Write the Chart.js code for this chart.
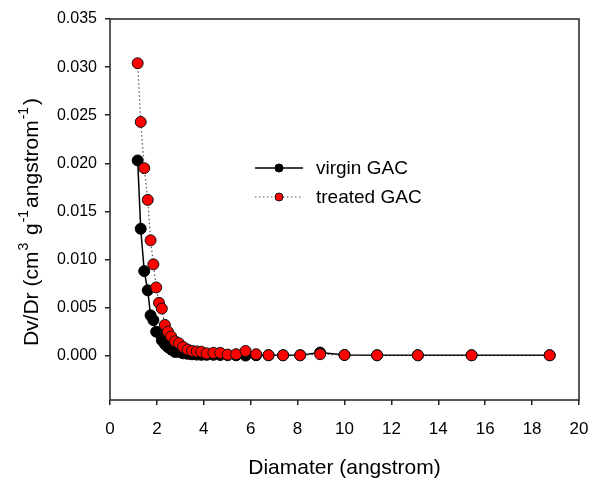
<!DOCTYPE html>
<html>
<head>
<meta charset="utf-8">
<script src="https://cdn.jsdelivr.net/npm/chart.js@4.4.1/dist/chart.umd.min.js"></script>
<style>
html,body{margin:0;padding:0;background:#fff;}
</style>
</head>
<body>
<canvas id="psdChart" width="592" height="479"></canvas>
<script>

/* data */

var diameter=[1.18,1.31,1.46,1.61,1.73,1.85,1.97,2.09,2.21,2.34,2.47,2.61,2.77,2.94,3.12,3.31,3.50,3.70,3.89,4.12,4.41,4.70,5.02,5.38,5.78,6.23,6.76,7.38,8.11,8.96,10.0,11.39,13.13,15.42,18.75];

var virginGAC=[0.0203,0.0132,0.0088,0.0068,0.0042,0.0037,0.0025,0.0024,0.0016,0.0012,0.0009,0.00065,0.0004,0.0004,0.00025,0.0002,0.00015,0.00012,0.0001,0.0001,0.0001,0.00008,0.00006,0.00005,0.00002,0.00005,0.00005,0.00005,0.00005,0.00033,0.00008,0.00005,0.00005,0.00005,0.00005];

var treatedGAC=[0.0304,0.0243,0.0195,0.0162,0.0120,0.0095,0.0071,0.0055,0.0049,0.0032,0.0025,0.0020,0.0015,0.0013,0.0009,0.00065,0.0005,0.00045,0.00042,0.00025,0.0003,0.0003,0.00012,0.00016,0.0005,0.00016,0.00006,0.00005,0.00005,0.00016,0.00008,0.00005,0.00005,0.00005,0.00005];

var xTicks=[0,2,4,6,8,10,12,14,16,18,20];
var yTicks=[0,0.005,0.010,0.015,0.020,0.025,0.030,0.035];

var seriesNames=["virgin GAC","treated GAC"];

var yTitleParts=[["Dv/Dr (cm",0],["3",1],[" g",0],["-1",1],["angstrom",0],["-1",1],[")",0]];

var FONT="'Liberation Sans', Arial, sans-serif";

function toPoints(xs,ys){
return xs.map(function(x,i){ return {x:x,y:ys[i]}; });
}

/* frame, y title with superscripts, legend */

var extras={
id:"extras",
afterDraw:function(chart){
var ctx=chart.ctx;
var a=chart.chartArea;

ctx.save();
ctx.strokeStyle="#222";
ctx.lineWidth=1.5;
ctx.strokeRect(a.left,a.top,a.right-a.left,a.bottom-a.top);
ctx.restore();

// y title
ctx.save();
ctx.fillStyle="#000";
ctx.textBaseline="alphabetic";
var total=0;
yTitleParts.forEach(function(p){
ctx.font=(p[1]?"14px ":"21px ")+FONT;
total+=ctx.measureText(p[0]).width+(p[1]?3:0);
});
ctx.translate(38,222);
ctx.rotate(-Math.PI/2);
var x=-total/2;
yTitleParts.forEach(function(p){
ctx.font=(p[1]?"14px ":"21px ")+FONT;
if(p[1]){ x+=1; }
ctx.fillText(p[0],x,p[1]?-10:0);
x+=ctx.measureText(p[0]).width+(p[1]?2:0);
});
ctx.restore();

// legend
var rows=[168,197];
chart.data.datasets.forEach(function(ds,i){
var y=rows[i];
ctx.save();
ctx.strokeStyle=ds.borderColor;
ctx.lineWidth=ds.borderWidth;
ctx.setLineDash(ds.borderDash||[]);
ctx.beginPath();
ctx.moveTo(255,y);
ctx.lineTo(303,y);
ctx.stroke();
ctx.setLineDash([]);
ctx.beginPath();
ctx.arc(279,y,4,0,Math.PI*2);
ctx.fillStyle=ds.pointBackgroundColor;
ctx.fill();
ctx.lineWidth=ds.pointBorderWidth;
ctx.strokeStyle=ds.pointBorderColor;
ctx.stroke();
ctx.fillStyle="#000";
ctx.font="19px "+FONT;
ctx.textBaseline="middle";
ctx.fillText(ds.label,316,y+1);
ctx.restore();
});
}
};

var ctx=document.getElementById("psdChart");

new Chart(ctx,{

type:"scatter",

data:{
datasets:[{
label:seriesNames[0],
data:toPoints(diameter,virginGAC),
showLine:true,
tension:0,
borderColor:"#000",
borderWidth:1.5,
pointRadius:5.5,
pointBackgroundColor:"#000",
pointBorderColor:"#000",
pointBorderWidth:1,
order:2
},{
label:seriesNames[1],
data:toPoints(diameter,treatedGAC),
showLine:true,
tension:0,
borderColor:"#555",
borderWidth:1.2,
borderDash:[1.5,2.5],
pointRadius:5.5,
pointBackgroundColor:"#ff0000",
pointBorderColor:"#111",
pointBorderWidth:1,
order:1
}]
},

options:{
responsive:false,
animation:false,
layout:{padding:{left:0,right:13,top:19,bottom:0}},
plugins:{
legend:{display:false},
tooltip:{enabled:false}
},
scales:{
x:{
type:"linear",
min:0,
max:20,
afterBuildTicks:function(s){ s.ticks=xTicks.map(function(v){return {value:v};}); },
afterFit:function(s){ s.height=79; s.paddingLeft=0; s.paddingRight=0; },
border:{display:false},
grid:{drawOnChartArea:false,drawTicks:true,tickLength:5,color:"#222",lineWidth:1.5},
ticks:{color:"#000",padding:14,maxRotation:0,font:{family:FONT,size:17}},
title:{display:true,text:"Diamater (angstrom)",color:"#000",font:{family:FONT,size:21,lineHeight:1},padding:{top:0,bottom:0}}
},
y:{
type:"linear",
min:-0.0046,
max:0.035,
afterBuildTicks:function(s){ s.ticks=yTicks.map(function(v){return {value:v};}); },
afterFit:function(s){ s.width=110; s.paddingTop=0; s.paddingBottom=0; },
border:{display:false},
grid:{drawOnChartArea:false,drawTicks:true,tickLength:5,color:"#222",lineWidth:1.5},
ticks:{color:"#000",padding:8,font:{family:FONT,size:16},callback:function(v){ return v.toFixed(3); }}
}
}
},

plugins:[extras]

});

</script>
</body>
</html>
